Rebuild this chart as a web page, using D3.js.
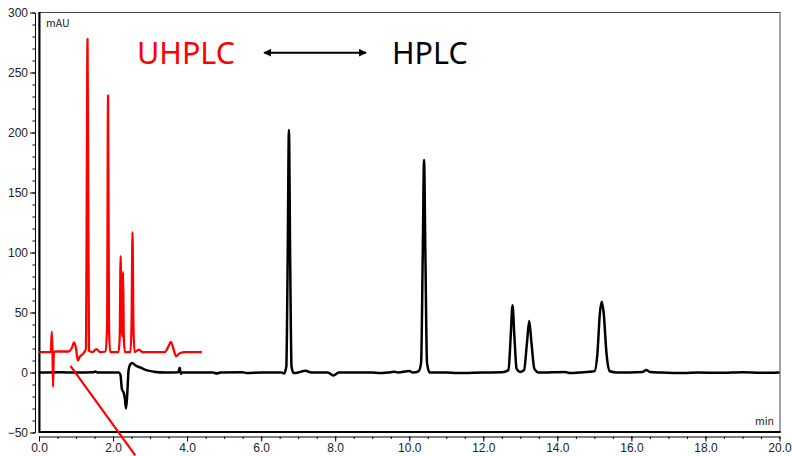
<!DOCTYPE html>
<html>
<head>
<meta charset="utf-8">
<script src="https://cdn.jsdelivr.net/npm/d3@7"></script>
<style>
  html, body { margin: 0; padding: 0; background: #fff; }
  svg { display: block; }
</style>
</head>
<body>
<div id="chart"></div>
<script>
// HPLC trace (black), [min, mAU]
const hplcTrace = [
  [0, 0], [0.6, 0.2], [1.0, 0], [1.48, 0.3], [1.52, 0.8], [1.58, 0], [2.15, 0],
  [2.2, -2], [2.24, -14], [2.29, -17], [2.32, -22], [2.35, -30], [2.38, -20],
  [2.42, 2], [2.47, 7], [2.52, 8], [2.6, 6], [2.75, 4], [2.9, 2], [3.1, 0.7],
  [3.4, 0], [3.76, 0.3], [3.8, 4], [3.83, -1], [3.87, 0], [4.3, 0], [4.7, 0],
  [4.8, -0.8], [4.9, 0], [5.5, 0.2], [5.6, -0.5], [6.0, 0], [6.55, 0],
  [6.62, -0.8], [6.68, 5], [6.715, 90], [6.75, 202], [6.785, 90], [6.82, 5],
  [6.88, -0.5], [7.0, 0], [7.2, 1.5], [7.35, 0], [7.8, 0], [7.95, -2.5],
  [8.1, 0], [9.0, 0], [9.2, -0.5], [9.5, 0.3], [9.6, 0.6], [9.7, 0],
  [10.0, 1.2], [10.1, 0], [10.25, 1], [10.32, 8], [10.365, 100], [10.4, 177],
  [10.435, 100], [10.48, 8], [10.55, 0], [11.0, 0], [11.3, -0.5], [12.0, 0],
  [12.5, 0.2], [12.68, 2], [12.74, 30], [12.79, 56], [12.84, 30], [12.9, 3],
  [13.0, 0.5], [13.1, 2], [13.18, 25], [13.24, 43], [13.3, 25], [13.38, 3],
  [13.5, 0], [14.2, 0.5], [14.35, -0.5], [14.6, 0], [15.0, 1], [15.08, 15],
  [15.15, 50], [15.2, 59], [15.25, 50], [15.33, 15], [15.42, 1], [15.6, 0],
  [16.3, 0.5], [16.4, 2], [16.5, 0.5], [16.8, 0], [17.4, -0.5], [17.8, 0],
  [18.4, -0.3], [19.0, 0.3], [19.5, -0.3], [20, 0]
];

// UHPLC trace (red), [min, mAU]
const uhplcTrace = [
  [0, 17], [0.32, 17], [0.345, 34], [0.365, 17], [0.38, -12], [0.4, 17],
  [0.45, 17.5], [0.8, 17.5], [0.88, 20], [0.95, 25], [1.0, 20], [1.05, 10],
  [1.1, 13], [1.2, 16], [1.27, 20], [1.29, 150], [1.31, 278], [1.33, 150],
  [1.35, 18], [1.45, 17], [1.55, 19.5], [1.65, 17], [1.8, 17.5], [1.84, 40],
  [1.865, 231], [1.89, 40], [1.92, 17], [2.15, 17], [2.18, 30], [2.205, 97],
  [2.23, 40], [2.25, 30], [2.27, 84], [2.29, 30], [2.32, 17], [2.47, 17],
  [2.5, 40], [2.525, 117], [2.55, 40], [2.58, 17], [2.7, 19], [2.8, 17],
  [3.4, 17], [3.5, 22], [3.56, 25.5], [3.63, 20], [3.7, 13.5], [3.8, 16],
  [3.95, 17], [4.4, 17]
];

// red pointer line, [min, mAU]
const pointerLine = [[0.85, 5.5], [2.6, -69]];

const xTicks = [0, 2, 4, 6, 8, 10, 12, 14, 16, 18, 20];
const yTicks = [-50, 0, 50, 100, 150, 200, 250, 300];

const W = 792, H = 456;
const svg = d3.select("#chart").append("svg")
  .attr("width", W)
  .attr("height", H)
  .style("font-family", "'Noto Sans CJK JP', 'Noto Sans', sans-serif");

const x = d3.scaleLinear().domain([0, 20]).range([39, 779.5]);
const y = d3.scaleLinear().domain([-50, 300]).range([432.5, 12.5]);

// frame
svg.append("rect")
  .attr("x", 39).attr("y", 12.5)
  .attr("width", 741).attr("height", 420)
  .attr("fill", "none")
  .attr("stroke", "#444")
  .attr("stroke-width", 1);
svg.append("line")
  .attr("x1", 39.5).attr("x2", 39.5).attr("y1", 12).attr("y2", 433)
  .attr("stroke", "#000").attr("stroke-width", 2);
svg.append("line")
  .attr("x1", 39).attr("x2", 780.5).attr("y1", 432).attr("y2", 432)
  .attr("stroke", "#000").attr("stroke-width", 2);

// y axis (offset to the left of the frame)
svg.append("g")
  .attr("transform", "translate(35,0)")
  .call(d3.axisLeft(y).tickValues(d3.range(-50, 301, 10)).tickSize(2.5).tickFormat(""))
  .call(g => g.select(".domain").remove());
const yAxis = svg.append("g")
  .attr("transform", "translate(35,0)")
  .call(d3.axisLeft(y).tickValues(yTicks).tickSize(5).tickSizeOuter(0).tickPadding(2));
yAxis.selectAll("text").attr("font-size", 12).attr("fill", "#222");

// x axis (offset below the frame)
svg.append("g")
  .attr("transform", "translate(0,436.5)")
  .call(d3.axisBottom(x).tickValues(d3.range(0, 20.01, 0.5)).tickSize(2.5).tickFormat(""))
  .call(g => g.select(".domain").remove());
const xAxis = svg.append("g")
  .attr("transform", "translate(0,436.5)")
  .call(d3.axisBottom(x).tickValues(xTicks).tickSize(5).tickSizeOuter(0)
    .tickPadding(2).tickFormat(d3.format(".1f")));
xAxis.selectAll("text").attr("font-size", 12).attr("fill", "#222");

svg.append("text")
  .attr("x", 46).attr("y", 27)
  .attr("font-size", 10.5).attr("fill", "#222")
  .text("mAU");
svg.append("text")
  .attr("x", 774).attr("y", 425)
  .attr("text-anchor", "end")
  .attr("font-size", 10.5).attr("fill", "#222")
  .text("min");

const line = d3.line()
  .x(d => x(d[0]))
  .y(d => y(d[1]))
  .curve(d3.curveMonotoneX);

svg.append("path")
  .datum(hplcTrace)
  .attr("d", line)
  .attr("fill", "none")
  .attr("stroke", "#000")
  .attr("stroke-width", 2.5)
  .attr("stroke-linejoin", "round");

svg.append("path")
  .datum(uhplcTrace)
  .attr("d", line)
  .attr("fill", "none")
  .attr("stroke", "#ff0000")
  .attr("stroke-width", 2.3)
  .attr("stroke-linejoin", "round");

svg.append("line")
  .attr("x1", x(pointerLine[0][0])).attr("y1", y(pointerLine[0][1]))
  .attr("x2", x(pointerLine[1][0])).attr("y2", y(pointerLine[1][1]))
  .attr("stroke", "#ff0000")
  .attr("stroke-width", 2.2);

// title: UHPLC <-> HPLC
svg.append("defs").append("marker")
  .attr("id", "head")
  .attr("viewBox", "0 0 10 10")
  .attr("refX", 9).attr("refY", 5)
  .attr("markerWidth", 4).attr("markerHeight", 4)
  .attr("orient", "auto-start-reverse")
  .append("path")
  .attr("d", "M0,0 L10,5 L0,10 Z")
  .attr("fill", "#000");

svg.append("text")
  .attr("x", 137).attr("y", 64)
  .attr("font-family", "'Noto Sans', sans-serif")
  .attr("font-size", 30.5).attr("fill", "#ff0000")
  .text("UHPLC");
svg.append("line")
  .attr("x1", 264).attr("x2", 366).attr("y1", 52.7).attr("y2", 52.7)
  .attr("stroke", "#000").attr("stroke-width", 2)
  .attr("marker-start", "url(#head)")
  .attr("marker-end", "url(#head)");
svg.append("text")
  .attr("x", 392).attr("y", 64)
  .attr("font-family", "'Noto Sans', sans-serif")
  .attr("font-size", 30.5).attr("fill", "#000")
  .text("HPLC");
</script>
</body>
</html>
